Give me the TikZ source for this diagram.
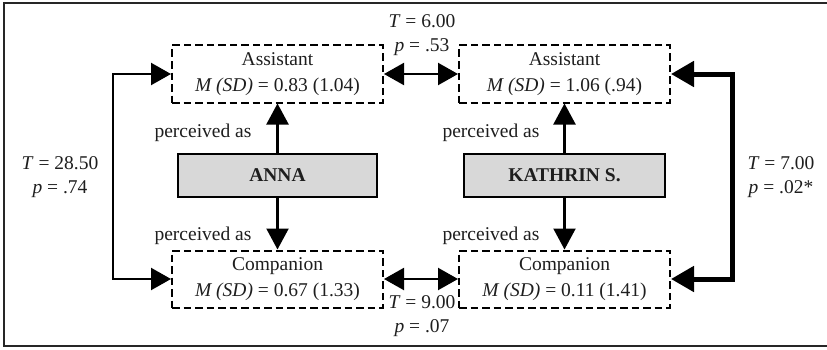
\documentclass[tikz,border=0pt]{standalone}
\usepackage{fontspec}
\setmainfont{Liberation Serif}
\usetikzlibrary{arrows.meta}
\definecolor{txt}{RGB}{30,30,30}
\definecolor{boxgray}{RGB}{216,216,216}
\tikzset{
  dbox/.style={draw=black, line width=2pt, dash pattern=on 7.5pt off 4pt, minimum width=211pt, minimum height=57pt, inner sep=0pt, align=center, text=txt, font=\fontsize{19.5}{26}\selectfont},
  pbox/.style={draw=black, line width=2.2pt, fill=boxgray, minimum width=199pt, minimum height=43pt, inner sep=0pt, text=txt, font=\fontsize{19.5}{24}\selectfont\bfseries},
  lbl/.style={align=center, text=txt, inner sep=0pt, font=\fontsize{19.5}{23.5}\selectfont},
  conn/.style={line width=2.2pt, -{Triangle[length=21pt,width=22pt]}},
  dconn/.style={line width=2.2pt, {Triangle[length=20pt,width=22pt]}-{Triangle[length=20pt,width=22pt]}},
  thickconn/.style={line width=5pt, {Triangle[length=23pt,width=25pt]}-{Triangle[length=23pt,width=25pt]}},
}
\begin{document}
\begin{tikzpicture}[x=1pt,y=1pt]
\useasboundingbox (0,0) rectangle (827,349);
\draw[line width=2.2pt, black!85] (830,346) -- (4,346) -- (4,3) -- (830,3);

\node[dbox] (A1) at (277.5,275) {Assistant\\\textit{M (SD)} = 0.83 (1.04)};
\node[dbox] (A2) at (564.5,275) {Assistant\\\textit{M (SD)} = 1.06 (.94)};
\node[dbox] (C1) at (277.5,70) {Companion\\\textit{M (SD)} = 0.67 (1.33)};
\node[dbox] (C2) at (564.5,70) {Companion\\\textit{M (SD)} = 0.11 (1.41)};

\node[pbox] (ANNA) at (277.5,173.5) {ANNA};
\node[pbox, minimum width=201pt] (KATH) at (564.5,173.5) {KATHRIN S.};

\node[lbl] (pa1) at (203,216) {perceived as};
\node[lbl] (pa2) at (203,113) {perceived as};
\node[lbl] (pk1) at (491,216) {perceived as};
\node[lbl] (pk2) at (491,113) {perceived as};

\node[lbl] (t6) at (422,314) {\textit{T} = 6.00\\\textit{p} = .53};
\node[lbl] (t9) at (422,33) {\textit{T} = 9.00\\\textit{p} = .07};
\node[lbl] (t28) at (60,172) {\textit{T} = 28.50\\\textit{p} = .74};
\node[lbl] (t7) at (781,172) {\textit{T} = 7.00\\\textit{p} = .02*};

\coordinate (L) at (113,173);
\coordinate (R) at (732,173);

\draw[conn] (ANNA.north) -- (A1.south);
\draw[conn] (ANNA.south) -- (C1.north);
\draw[conn] (KATH.north) -- (A2.south);
\draw[conn] (KATH.south) -- (C2.north);

\draw[dconn] (A1.east) -- (A2.west);
\draw[dconn] (C1.east) -- (C2.west);

\draw[dconn] (A1.west) -| (L) |- (C1.west);
\draw[thickconn] (A2.east) -| (R) |- (C2.east);
\end{tikzpicture}
\end{document}
